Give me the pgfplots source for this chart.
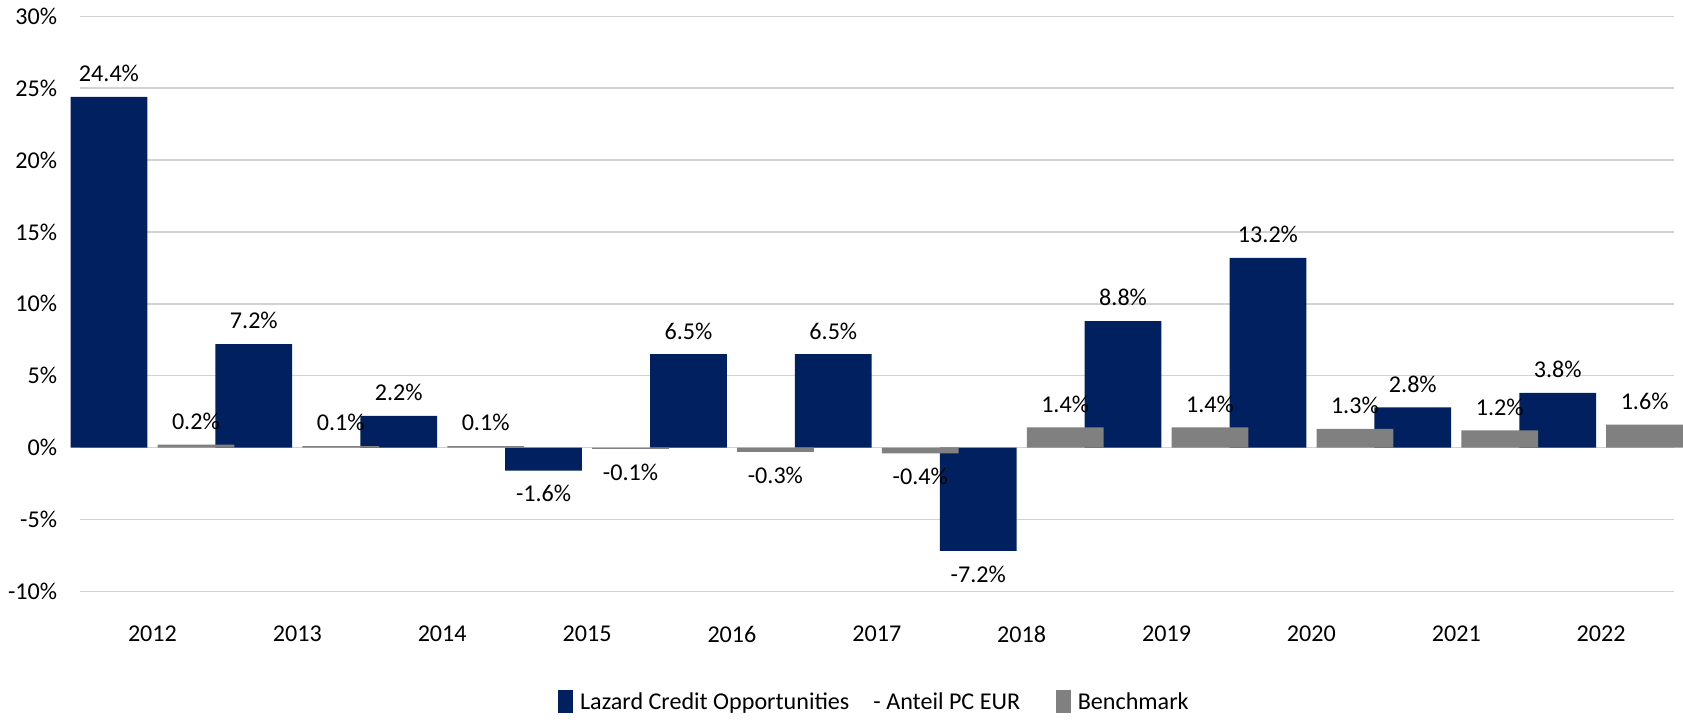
\documentclass[border=0pt]{standalone}
\usepackage{pgfplots}
\pgfplotsset{compat=1.18}
\usepackage{fontspec}
\setmainfont{Carlito}
\definecolor{navy}{RGB}{0,32,96}
\definecolor{bgray}{RGB}{128,128,128}
\begin{document}
\fontsize{6.8}{8}\selectfont
\begin{tikzpicture}
\begin{axis}[
  width=15.8cm, height=5.7cm, scale only axis,
  ybar, ymin=-10, ymax=30, ytick={-10,-5,...,30},
  yticklabel={\pgfmathprintnumber{\tick}\%},
  /pgf/number format/assume math mode=true,
  yticklabel style={xshift=-4pt},
  xmin=-0.5, xmax=10.5, xtick={0,...,10},
  xticklabels={2012,2013,2014,2015,2016,2017,2018,2019,2020,2021,2022},
  xticklabel style={yshift=-3pt},
  axis line style={draw=none}, tick style={draw=none},
  ymajorgrids, grid style={draw=gray!35},
  bar width=0.53,
  nodes near coords={\pgfmathprintnumber[fixed,precision=1,fixed zerofill]{\pgfplotspointmeta}\%},
  nodes near coords style={font=\fontsize{6.8}{8}\selectfont, inner sep=4pt},
  legend style={at={(0.5,-0.15)}, anchor=north, draw=none, legend columns=-1,
    /tikz/every even column/.append style={column sep=8pt}},
  legend image code/.code={\fill[#1] (0cm,-0.1cm) rectangle (0.15cm,0.12cm);},
  enlarge x limits=false,
  clip=false,
]
\addplot[fill=navy, draw=none, bar shift=-0.30] coordinates {
(0,24.4)(1,7.2)(2,2.2)(3,-1.6)(4,6.5)(5,6.5)(6,-7.2)(7,8.8)(8,13.2)(9,2.8)(10,3.8)};
\addlegendentry{Lazard Credit Opportunities\quad - Anteil PC EUR}
\addplot[fill=bgray, draw=none, bar shift=0.30] coordinates {
(0,0.2)(1,0.1)(2,0.1)(3,-0.1)(4,-0.3)(5,-0.4)(6,1.4)(7,1.4)(8,1.3)(9,1.2)(10,1.6)};
\addlegendentry{Benchmark}
\end{axis}
\end{tikzpicture}
\end{document}
